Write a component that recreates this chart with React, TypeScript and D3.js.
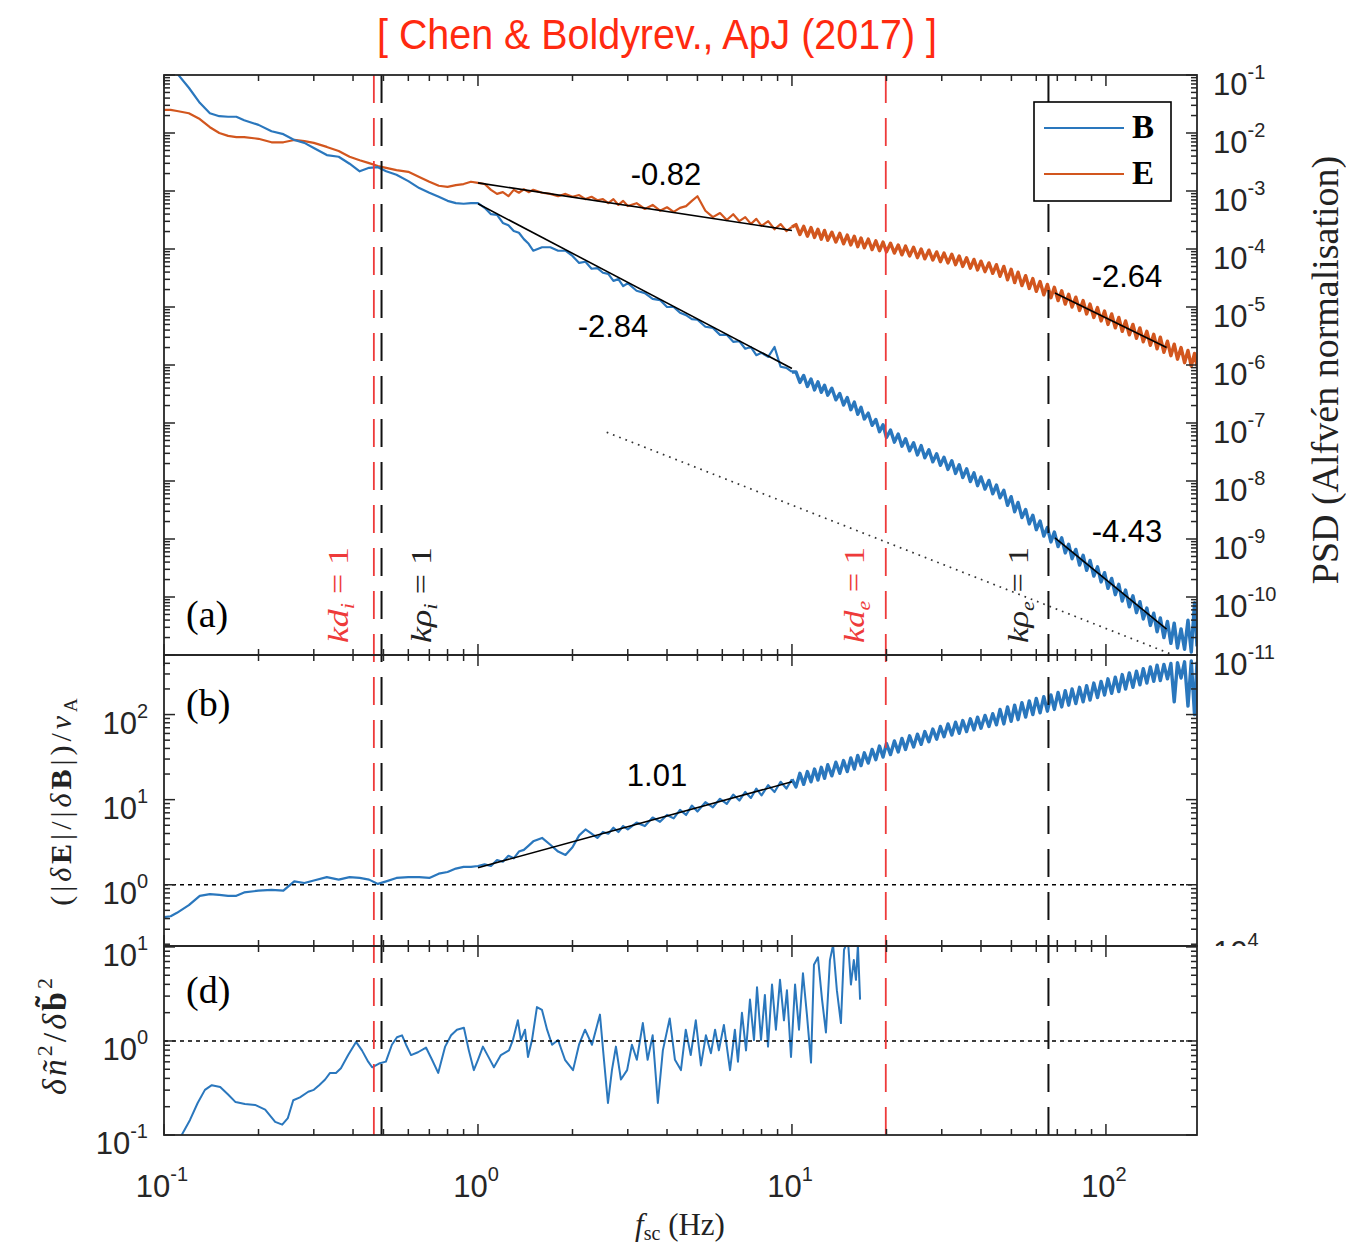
import React from "react";
import * as d3 from "d3";

// ------------------------------------------------------------------
// DATA
// ------------------------------------------------------------------

// shared spacecraft-frame frequency grid (Hz) for panels (a) and (b)
const freqHz = [
  0.1, 0.105, 0.11, 0.12, 0.13, 0.14, 0.15, 0.16, 0.17, 0.18,
  0.2, 0.22, 0.24, 0.26, 0.28, 0.3, 0.33, 0.36, 0.39, 0.42,
  0.45, 0.48, 0.51, 0.55, 0.6, 0.65, 0.7, 0.75, 0.8, 0.85,
  0.9, 0.95, 1.0,
  1.05, 1.1, 1.15, 1.2, 1.25, 1.3, 1.35, 1.4, 1.45, 1.5,
  1.6, 1.7, 1.8, 1.9, 2.0, 2.1, 2.2, 2.3, 2.4, 2.5,
  2.6, 2.7, 2.8, 2.9, 3.0, 3.2, 3.4, 3.6, 3.8, 4.0,
  4.2, 4.4, 4.6, 4.8, 5.0, 5.3, 5.6, 5.9, 6.2, 6.5,
  6.8, 7.1, 7.4, 7.7, 8.0, 8.4, 8.8, 9.2, 9.6, 10,
  10.3, 10.6, 10.9, 11.2, 11.5, 11.8, 12.1, 12.4, 12.7, 13,
  13.4, 13.8, 14.2, 14.6, 15, 15.4, 15.8, 16.2, 16.6, 17,
  17.5, 18, 18.5, 19, 19.5, 20, 20.6, 21.2, 21.8, 22.4,
  23, 23.7, 24.4, 25.1, 25.8, 26.5, 27.3, 28.1, 28.9, 29.7,
  30.5, 31.4, 32.3, 33.2, 34.1, 35, 36, 37, 38, 39,
  40, 41.2, 42.4, 43.6, 44.8, 46, 47.3, 48.6, 49.9, 51.2,
  52.5, 54, 55.5, 57, 58.5, 60, 61.7, 63.4, 65.1, 66.8,
  68.5, 70.4, 72.3, 74.2, 76.1, 78, 80.2, 82.4, 84.6, 86.8,
  89, 91.5, 94, 96.5, 99, 101.5, 104.3, 107.1, 109.9, 112.7,
  115.5, 118.7, 121.9, 125.1, 128.3, 131.5, 135, 138.5, 142, 145.5,
  149, 153, 157, 161, 165, 169, 173.5, 178, 182.5, 187,
  191.5, 195,
];

// panel (a): log10 PSD of B (Alfven normalisation)
const psdBLog10 = [
  -0.74, -0.84, -0.97, -1.22, -1.48, -1.66, -1.71, -1.72, -1.72, -1.78,
  -1.86, -1.97, -2.02, -2.12, -2.17, -2.26, -2.38, -2.41, -2.53, -2.66,
  -2.6, -2.59, -2.66, -2.72, -2.83, -2.95, -3.03, -3.1, -3.17, -3.21,
  -3.22, -3.21, -3.21,
  -3.29, -3.4, -3.41, -3.55, -3.59, -3.69, -3.72, -3.83, -3.91, -4.03,
  -3.97, -3.97, -4.03, -4.03, -4.12, -4.24, -4.22, -4.34, -4.33, -4.41,
  -4.43, -4.55, -4.52, -4.64, -4.59, -4.72, -4.76, -4.86, -4.88, -5.0,
  -5.0, -5.1, -5.14, -5.21, -5.22, -5.34, -5.36, -5.48, -5.48, -5.6,
  -5.59, -5.72, -5.69, -5.83, -5.79, -5.86, -5.69, -6.03, -6.05, -6.12,
  -6.12, -6.3, -6.18, -6.37, -6.24, -6.43, -6.29, -6.47, -6.35, -6.52,
  -6.4, -6.6, -6.49, -6.69, -6.56, -6.77, -6.64, -6.85, -6.73, -6.93,
  -6.83, -7.04, -6.94, -7.15, -7.03, -7.25, -7.12, -7.33, -7.19, -7.4,
  -7.27, -7.48, -7.34, -7.55, -7.39, -7.6, -7.46, -7.67, -7.53, -7.73,
  -7.59, -7.8, -7.65, -7.87, -7.72, -7.94, -7.79, -8.01, -7.86, -8.08,
  -7.93, -8.14, -7.99, -8.22, -8.07, -8.29, -8.16, -8.42, -8.27, -8.53,
  -8.37, -8.63, -8.49, -8.74, -8.59, -8.84, -8.69, -8.95, -8.8, -9.05,
  -8.88, -9.13, -8.98, -9.24, -9.09, -9.34, -9.18, -9.45, -9.28, -9.54,
  -9.37, -9.64, -9.48, -9.74, -9.58, -9.85, -9.68, -9.96, -9.78, -10.07,
  -9.88, -10.17, -9.98, -10.27, -10.08, -10.38, -10.19, -10.49, -10.28, -10.6,
  -10.36, -10.7, -10.42, -10.8, -10.45, -10.88, -10.55, -10.9, -10.4, -10.95,
  -10.1, -10.85,
];

// panel (a): log10 PSD of E (Alfven normalisation)
const psdELog10 = [
  -1.6, -1.6, -1.62, -1.66, -1.76, -1.9, -2.0, -2.05, -2.07, -2.07,
  -2.1, -2.16, -2.16, -2.12, -2.14, -2.17, -2.24, -2.31, -2.41, -2.47,
  -2.52, -2.57, -2.6, -2.64, -2.67, -2.76, -2.84, -2.91, -2.93, -2.9,
  -2.88, -2.84, -2.86,
  -2.88, -2.98, -3.05, -3.02, -3.09, -2.98, -3.03, -2.97, -3.02, -2.98,
  -3.03, -3.05, -3.09, -3.05, -3.1, -3.07, -3.14, -3.1, -3.16, -3.14,
  -3.21, -3.14, -3.24, -3.17, -3.26, -3.21, -3.31, -3.24, -3.34, -3.28,
  -3.36, -3.29, -3.26, -3.17, -3.09, -3.34, -3.45, -3.38, -3.5, -3.4,
  -3.52, -3.45, -3.57, -3.48, -3.6, -3.52, -3.66, -3.57, -3.69, -3.62,
  -3.58, -3.75, -3.61, -3.78, -3.63, -3.8, -3.66, -3.83, -3.68, -3.85,
  -3.71, -3.88, -3.73, -3.91, -3.76, -3.93, -3.78, -3.96, -3.81, -3.98,
  -3.83, -4.01, -3.86, -4.03, -3.88, -4.05, -3.9, -4.07, -3.93, -4.1,
  -3.95, -4.12, -3.97, -4.15, -4.0, -4.17, -4.02, -4.19, -4.05, -4.22,
  -4.07, -4.24, -4.09, -4.27, -4.12, -4.3, -4.15, -4.33, -4.18, -4.36,
  -4.21, -4.39, -4.24, -4.42, -4.27, -4.47, -4.3, -4.53, -4.35, -4.58,
  -4.4, -4.63, -4.46, -4.68, -4.51, -4.73, -4.56, -4.79, -4.61, -4.84,
  -4.66, -4.89, -4.72, -4.95, -4.78, -5.0, -4.83, -5.06, -4.89, -5.12,
  -4.95, -5.18, -5.01, -5.24, -5.07, -5.3, -5.12, -5.36, -5.18, -5.42,
  -5.24, -5.48, -5.3, -5.54, -5.36, -5.6, -5.42, -5.66, -5.47, -5.72,
  -5.52, -5.78, -5.59, -5.84, -5.64, -5.9, -5.7, -5.96, -5.75, -6.02,
  -5.8, -6.02,
];

// panel (b): log10 of (|dE|/|dB|)/vA
const ratioLog10 = [
  -0.38, -0.37, -0.33, -0.24, -0.13, -0.11, -0.12, -0.13, -0.13, -0.09,
  -0.07, -0.06, -0.07, 0.04, 0.02, 0.05, 0.09, 0.06, 0.09, 0.08,
  0.06, 0.01, 0.04, 0.08, 0.09, 0.09, 0.08, 0.13, 0.15, 0.19,
  0.21, 0.21, 0.22,
  0.24, 0.22, 0.29, 0.27, 0.34, 0.31, 0.39, 0.41, 0.46, 0.51,
  0.55, 0.47, 0.39, 0.35, 0.44, 0.58, 0.65, 0.6, 0.55, 0.62,
  0.6, 0.67, 0.62, 0.69, 0.65, 0.73, 0.69, 0.79, 0.74, 0.82,
  0.78, 0.88, 0.82, 0.93, 0.86, 0.97, 0.91, 1.01, 0.95, 1.06,
  0.99, 1.09, 1.02, 1.13, 1.05, 1.17, 1.09, 1.21, 1.13, 1.24,
  1.15, 1.31, 1.18, 1.33, 1.21, 1.36, 1.23, 1.38, 1.25, 1.41,
  1.28, 1.44, 1.31, 1.46, 1.33, 1.49, 1.36, 1.52, 1.4, 1.55,
  1.43, 1.59, 1.47, 1.63, 1.5, 1.66, 1.53, 1.69, 1.56, 1.72,
  1.59, 1.75, 1.62, 1.77, 1.65, 1.8, 1.68, 1.83, 1.71, 1.86,
  1.74, 1.89, 1.76, 1.91, 1.78, 1.93, 1.8, 1.95, 1.82, 1.97,
  1.84, 1.99, 1.86, 2.01, 1.88, 2.06, 1.89, 2.09, 1.92, 2.11,
  1.94, 2.14, 1.97, 2.16, 2.0, 2.19, 2.02, 2.21, 2.04, 2.23,
  2.06, 2.26, 2.09, 2.28, 2.11, 2.3, 2.13, 2.32, 2.15, 2.34,
  2.17, 2.37, 2.2, 2.39, 2.23, 2.42, 2.25, 2.44, 2.27, 2.47,
  2.3, 2.49, 2.32, 2.51, 2.35, 2.54, 2.37, 2.56, 2.39, 2.58,
  2.4, 2.59, 2.42, 2.6, 2.15, 2.61, 2.43, 2.62, 2.1, 2.63,
  2.0, 2.62,
];

// panel (d): density / magnetic compressibility ratio
const densFreqHz = [
  0.113, 0.121, 0.128, 0.135, 0.142, 0.151, 0.16, 0.169, 0.181, 0.195,
  0.21, 0.226, 0.238, 0.248, 0.258, 0.271, 0.288, 0.3, 0.312, 0.326,
  0.338, 0.353, 0.366, 0.386, 0.409, 0.427, 0.447, 0.46, 0.484, 0.509,
  0.532, 0.552, 0.573, 0.59, 0.612, 0.644, 0.683, 0.714, 0.747, 0.786,
  0.821, 0.857, 0.902, 0.935, 0.97, 1.0, 1.037, 1.084, 1.124, 1.183,
  1.255, 1.292, 1.34, 1.37, 1.412, 1.443, 1.486, 1.541, 1.599, 1.66,
  1.722, 1.799, 1.893, 2.008, 2.098, 2.193, 2.307, 2.446, 2.519, 2.594,
  2.671, 2.75, 2.853, 2.985, 3.093, 3.206, 3.35, 3.47, 3.6, 3.74,
  3.88, 4.08, 4.24, 4.43, 4.59, 4.76, 4.94, 5.13, 5.32, 5.52,
  5.69, 5.85, 6.07, 6.35, 6.58, 6.73, 6.93, 7.14, 7.35, 7.57,
  7.74, 7.97, 8.2, 8.39, 8.64, 8.89, 9.16, 9.43, 9.64, 9.93,
  10.23, 10.53, 10.84, 11.16, 11.5, 11.75, 12.1, 12.47, 12.83, 13.21,
  13.52, 13.9, 14.32, 14.65, 15.08, 15.41, 15.74, 15.99, 16.22, 16.48,
];
const densLog10 = [
  -1.02, -0.84, -0.66, -0.52, -0.47, -0.49, -0.57, -0.65, -0.67, -0.68,
  -0.73, -0.86, -0.89, -0.82, -0.63, -0.6, -0.54, -0.52, -0.47, -0.41,
  -0.34, -0.34, -0.29, -0.15, -0.01, -0.1, -0.22, -0.28, -0.24, -0.22,
  -0.04, 0.04, 0.06, -0.04, -0.15, -0.12, -0.07, -0.2, -0.34, -0.06,
  0.06, 0.12, 0.14, -0.1, -0.31, -0.2, -0.06, -0.18, -0.28, -0.15,
  -0.1, 0.01, 0.22, 0.01, 0.12, -0.17, 0.01, 0.36, 0.33, 0.12,
  -0.04, 0.01, -0.2, -0.31, -0.04, 0.12, -0.04, 0.28, -0.2, -0.66,
  -0.31, -0.06, -0.41, -0.31, -0.04, -0.2, 0.19, -0.2, 0.06, -0.66,
  -0.1, 0.24, -0.2, -0.31, 0.12, -0.15, 0.22, -0.26, 0.06, -0.13,
  0.12, -0.1, 0.17, -0.31, 0.12, -0.22, 0.3, -0.1, 0.44, 0.01,
  0.57, 0.01, 0.49, -0.06, 0.6, 0.12, 0.65, 0.22, 0.54, -0.17,
  0.6, 0.12, 0.72, 0.28, -0.23, 0.81, 0.89, 0.44, 0.09, 0.86,
  1.02, 0.54, 0.19, 0.97, 1.07, 0.6, 0.86, 0.65, 1.02, 0.44,
];

// power-law fits: start frequency, end frequency, log10 value at start, slope
const fitPanel = ["a", "a", "a", "a", "b"];
const fitF0 = [1, 1, 68.8, 68.8, 1];
const fitF1 = [10, 10, 156, 156, 10];
const fitV0 = [-2.86, -3.22, -4.76, -8.98, 0.2];
const fitSlope = [-0.82, -2.84, -2.64, -4.43, 1.01];
const fitLabels = ["-0.82", "-2.84", "-2.64", "-4.43", "1.01"];

// dotted reference line in panel (a): frequencies and log10 PSD
const refLineF = [2.57, 195];
const refLineV = [-7.16, -11.16];

// characteristic scales (Hz)
const markerF = [0.466, 0.493, 19.9, 65.6];
const markerSym = ["kd", "kρ", "kd", "kρ"];
const markerSub = ["i", "i", "e", "e"];
const markerIsRed = [true, false, true, false];

// tick labels (exponents of 10)
const xTickExp = [-1, 0, 1, 2];
const psdTickExp = [-1, -2, -3, -4, -5, -6, -7, -8, -9, -10, -11];
const ratioTickExp = [0, 1, 2];
const densTickExp = [-1, 0, 1];

// ------------------------------------------------------------------
// LAYOUT
// ------------------------------------------------------------------
const W = 1346;
const H = 1248;
const X0 = 164;
const X1 = 1197;
const A_TOP = 75;
const A_BOT = 655;
const B_BOT = 946;
const D_BOT = 1135;
const NOISY_FROM = 10; // Hz: above this the spectra are drawn as a thick noisy band

const BLUE = "#2a77bd";
const ORANGE = "#d2561e";
const RED = "#ee3a3a";
const AX = "#262626";
const SANS = "'Liberation Sans', Arial, Helvetica, sans-serif";
const SERIF = "'Liberation Serif', 'Times New Roman', serif";

const fitLabelXY = [
  [666, 185],
  [613, 337],
  [1127, 287],
  [1127, 542],
  [657, 786],
];
const markerLabelDx = [-26, 49, -22, -20];

export default function App() {
  const x = d3.scaleLog().domain([0.1, 195]).range([X0, X1]);
  const ya = d3.scaleLog().domain([1e-11, 1e-1]).range([A_BOT, A_TOP]);
  const yb = d3
    .scaleLog()
    .domain([Math.pow(10, -0.72), Math.pow(10, 2.7)])
    .range([B_BOT, A_BOT]);
  const yd = d3
    .scaleLog()
    .domain([0.1, Math.pow(10, 1.01)])
    .range([D_BOT, B_BOT]);

  const mk = (ys: any) =>
    d3
      .line<[number, number]>()
      .x((d) => x(d[0]))
      .y((d) => ys(Math.pow(10, d[1])));

  const ptsB = freqHz.map((f, i) => [f, psdBLog10[i]] as [number, number]);
  const ptsE = freqHz.map((f, i) => [f, psdELog10[i]] as [number, number]);
  const ptsR = freqHz.map((f, i) => [f, ratioLog10[i]] as [number, number]);
  const ptsD = densFreqHz.map((f, i) => [f, densLog10[i]] as [number, number]);

  const lo = (p: [number, number][]) => p.filter((d) => d[0] <= NOISY_FROM);
  const hi = (p: [number, number][]) => p.filter((d) => d[0] >= NOISY_FROM);

  const lineA = mk(ya);
  const lineB = mk(yb);
  const lineD = mk(yd);

  const isMajor = (t: number) =>
    Math.abs(Math.log10(t) - Math.round(Math.log10(t))) < 1e-6;

  const xTicks = x.ticks();

  const xTickMarks = (yPos: number, dir: number, key: string) =>
    xTicks.map((t, i) => {
      const len = isMajor(t) ? 11 : 6;
      const px = x(t);
      return (
        <line
          key={key + i}
          x1={px}
          x2={px}
          y1={yPos}
          y2={yPos + dir * len}
          stroke={AX}
          strokeWidth={1.5}
        />
      );
    });

  const yTickMarks = (ys: any, count: number, key: string) =>
    ys.ticks(count).map((t: number, i: number) => {
      const len = isMajor(t) ? 11 : 6;
      const py = ys(t);
      return (
        <g key={key + i}>
          <line x1={X0} x2={X0 + len} y1={py} y2={py} stroke={AX} strokeWidth={1.5} />
          <line x1={X1} x2={X1 - len} y1={py} y2={py} stroke={AX} strokeWidth={1.5} />
        </g>
      );
    });

  const powLabel = (
    e: number,
    px: number,
    py: number,
    anchor: string,
    key: string
  ) => (
    <text
      key={key}
      x={px}
      y={py}
      fontFamily={SANS}
      fontSize={31}
      fill={AX}
      textAnchor={anchor as any}
    >
      <tspan>10</tspan>
      <tspan fontSize={20} dy={-16}>
        {String(e)}
      </tspan>
    </text>
  );

  const fitPaths = fitF0.map((f0, i) => {
    const f1 = fitF1[i];
    const v0 = fitV0[i];
    const v1 = v0 + fitSlope[i] * Math.log10(f1 / f0);
    const gen = fitPanel[i] === "a" ? lineA : lineB;
    return (
      <path
        key={"fit" + i}
        d={gen([
          [f0, v0],
          [f1, v1],
        ]) as string}
        fill="none"
        stroke="#000"
        strokeWidth={1.6}
      />
    );
  });

  const series = (gen: any, pts: [number, number][], color: string) => (
    <g>
      <path d={gen(lo(pts)) as string} fill="none" stroke={color} strokeWidth={2.2} strokeLinejoin="round" />
      <path d={gen(hi(pts)) as string} fill="none" stroke={color} strokeWidth={3.4} strokeLinejoin="round" />
    </g>
  );

  return (
    <svg
      width={W}
      height={H}
      viewBox={`0 0 ${W} ${H}`}
      style={{ position: "absolute", left: 0, top: 0, background: "#fff" }}
    >
      <defs>
        <clipPath id="clipA">
          <rect x={X0} y={A_TOP} width={X1 - X0} height={A_BOT - A_TOP} />
        </clipPath>
        <clipPath id="clipB">
          <rect x={X0} y={A_BOT} width={X1 - X0} height={B_BOT - A_BOT} />
        </clipPath>
        <clipPath id="clipD">
          <rect x={X0} y={B_BOT} width={X1 - X0} height={D_BOT - B_BOT} />
        </clipPath>
        <clipPath id="clipHidden">
          <rect x={1200} y={900} width={140} height={B_BOT - 900} />
        </clipPath>
      </defs>
      <rect x={0} y={0} width={W} height={H} fill="#fff" />

      {/* title */}
      <text
        x={657}
        y={49}
        fontFamily={SANS}
        fontSize={42}
        fill="#ff2a10"
        textAnchor="middle"
        textLength={560}
        lengthAdjust="spacingAndGlyphs"
      >
        [ Chen &amp; Boldyrev., ApJ (2017) ]
      </text>

      {/* panel (a) data */}
      <g clipPath="url(#clipA)">
        {series(lineA, ptsE, ORANGE)}
        {series(lineA, ptsB, BLUE)}
        <path
          d={lineA(refLineF.map((f, i) => [f, refLineV[i]] as [number, number])) as string}
          fill="none"
          stroke="#333"
          strokeWidth={1.7}
          strokeDasharray="1.7,5"
        />
      </g>
      {/* panel (b) data */}
      <g clipPath="url(#clipB)">
        {series(lineB, ptsR, BLUE)}
        <line x1={X0} x2={X1} y1={yb(1)} y2={yb(1)} stroke="#000" strokeWidth={1.6} strokeDasharray="4,4" />
      </g>
      {/* panel (d) data */}
      <g clipPath="url(#clipD)">
        <path d={lineD(ptsD) as string} fill="none" stroke={BLUE} strokeWidth={2} strokeLinejoin="round" />
        <line x1={X0} x2={X1} y1={yd(1)} y2={yd(1)} stroke="#000" strokeWidth={1.6} strokeDasharray="4,4" />
      </g>

      {fitPaths}

      {/* characteristic scale markers */}
      {markerF.map((f, i) => (
        <line
          key={"mk" + i}
          x1={x(f)}
          x2={x(f)}
          y1={A_TOP}
          y2={D_BOT}
          stroke={markerIsRed[i] ? RED : "#111"}
          strokeWidth={markerIsRed[i] ? 1.8 : 2}
          strokeDasharray="28,15"
        />
      ))}

      {/* panel boxes */}
      <rect x={X0} y={A_TOP} width={X1 - X0} height={A_BOT - A_TOP} fill="none" stroke={AX} strokeWidth={1.8} />
      <rect x={X0} y={A_BOT} width={X1 - X0} height={B_BOT - A_BOT} fill="none" stroke={AX} strokeWidth={1.8} />
      <rect x={X0} y={B_BOT} width={X1 - X0} height={D_BOT - B_BOT} fill="none" stroke={AX} strokeWidth={1.8} />

      {/* ticks */}
      {xTickMarks(A_TOP, 1, "xa1")}
      {xTickMarks(A_BOT, -1, "xa2")}
      {xTickMarks(A_BOT, 1, "xb1")}
      {xTickMarks(B_BOT, -1, "xb2")}
      {xTickMarks(B_BOT, 1, "xd1")}
      {xTickMarks(D_BOT, -1, "xd2")}
      {yTickMarks(ya, 20, "ya")}
      {yTickMarks(yb, 20, "yb")}
      {yTickMarks(yd, 20, "yd")}

      {/* tick labels */}
      {psdTickExp.map((e) => powLabel(e, 1213, ya(Math.pow(10, e)) + 20, "start", "pl" + e))}
      {ratioTickExp.map((e) => powLabel(e, 148, yb(Math.pow(10, e)) + 19, "end", "rl" + e))}
      {densTickExp.map((e) => powLabel(e, 148, yd(Math.pow(10, e)) + 19, "end", "dl" + e))}
      {xTickExp.map((e) => powLabel(e, x(Math.pow(10, e)) - 2, 1197, "middle", "xl" + e))}
      {/* label of a hidden panel, cut by panel (d) */}
      <g clipPath="url(#clipHidden)">
        {powLabel(4, 1213, 963, "start", "hidden")}
      </g>

      {/* fit labels */}
      {fitLabels.map((s, i) => (
        <text
          key={"fl" + i}
          x={fitLabelXY[i][0]}
          y={fitLabelXY[i][1]}
          fontFamily={SANS}
          fontSize={31}
          fill="#000"
          textAnchor="middle"
        >
          {s}
        </text>
      ))}

      {/* marker labels (rotated) */}
      {markerF.map((f, i) => (
        <text
          key={"ml" + i}
          transform={`translate(${x(f) + markerLabelDx[i]},643) rotate(-90)`}
          fontFamily={SERIF}
          fontSize={30}
          fill={markerIsRed[i] ? RED : "#222"}
          textLength={96}
          lengthAdjust="spacingAndGlyphs"
        >
          <tspan fontStyle="italic">{markerSym[i]}</tspan>
          <tspan fontStyle="italic" fontSize={19} dy={6}>
            {markerSub[i]}
          </tspan>
          <tspan dy={-6}> = 1</tspan>
        </text>
      ))}

      {/* panel labels */}
      <text x={186} y={627} fontFamily={SERIF} fontSize={38} fill="#000">(a)</text>
      <text x={186} y={716} fontFamily={SERIF} fontSize={38} fill="#000">(b)</text>
      <text x={186} y={1003} fontFamily={SERIF} fontSize={38} fill="#000">(d)</text>

      {/* legend */}
      <rect x={1034} y={102} width={137} height={99} fill="#fff" stroke="#000" strokeWidth={1.6} />
      <line x1={1044} x2={1124} y1={128} y2={128} stroke={BLUE} strokeWidth={1.8} />
      <line x1={1044} x2={1124} y1={174} y2={174} stroke={ORANGE} strokeWidth={1.8} />
      <text x={1132} y={138} fontFamily={SERIF} fontSize={33} fontWeight="bold" fill="#000">B</text>
      <text x={1132} y={184} fontFamily={SERIF} fontSize={33} fontWeight="bold" fill="#000">E</text>

      {/* axis labels */}
      <text
        transform="translate(1338,370) rotate(-90)"
        fontFamily={SERIF}
        fontSize={38}
        fill="#222"
        textAnchor="middle"
      >
        PSD (Alfvén normalisation)
      </text>
      <text
        transform="translate(71,800) rotate(-90)"
        fontFamily={SERIF}
        fontSize={30}
        fill="#222"
        textAnchor="middle"
        letterSpacing={4}
      >
        <tspan>(|</tspan>
        <tspan fontStyle="italic">δ</tspan>
        <tspan fontWeight="bold">E</tspan>
        <tspan>|/|</tspan>
        <tspan fontStyle="italic">δ</tspan>
        <tspan fontWeight="bold">B</tspan>
        <tspan>|)/</tspan>
        <tspan fontStyle="italic">v</tspan>
        <tspan fontSize={19} dy={6}>A</tspan>
      </text>
      <text
        transform="translate(66,1035) rotate(-90)"
        fontFamily={SERIF}
        fontSize={34}
        fill="#222"
        textAnchor="middle"
        letterSpacing={3}
      >
        <tspan fontStyle="italic">δñ</tspan>
        <tspan fontSize={22} dy={-14}>2</tspan>
        <tspan dy={14}>/</tspan>
        <tspan fontStyle="italic">δ</tspan>
        <tspan fontWeight="bold">b̃</tspan>
        <tspan fontSize={22} dy={-14}>2</tspan>
      </text>
      <text x={680} y={1235} fontFamily={SERIF} fontSize={31} fill="#222" textAnchor="middle">
        <tspan fontStyle="italic">f</tspan>
        <tspan fontSize={20} dy={5}>sc</tspan>
        <tspan dy={-5}> (Hz)</tspan>
      </text>
    </svg>
  );
}
